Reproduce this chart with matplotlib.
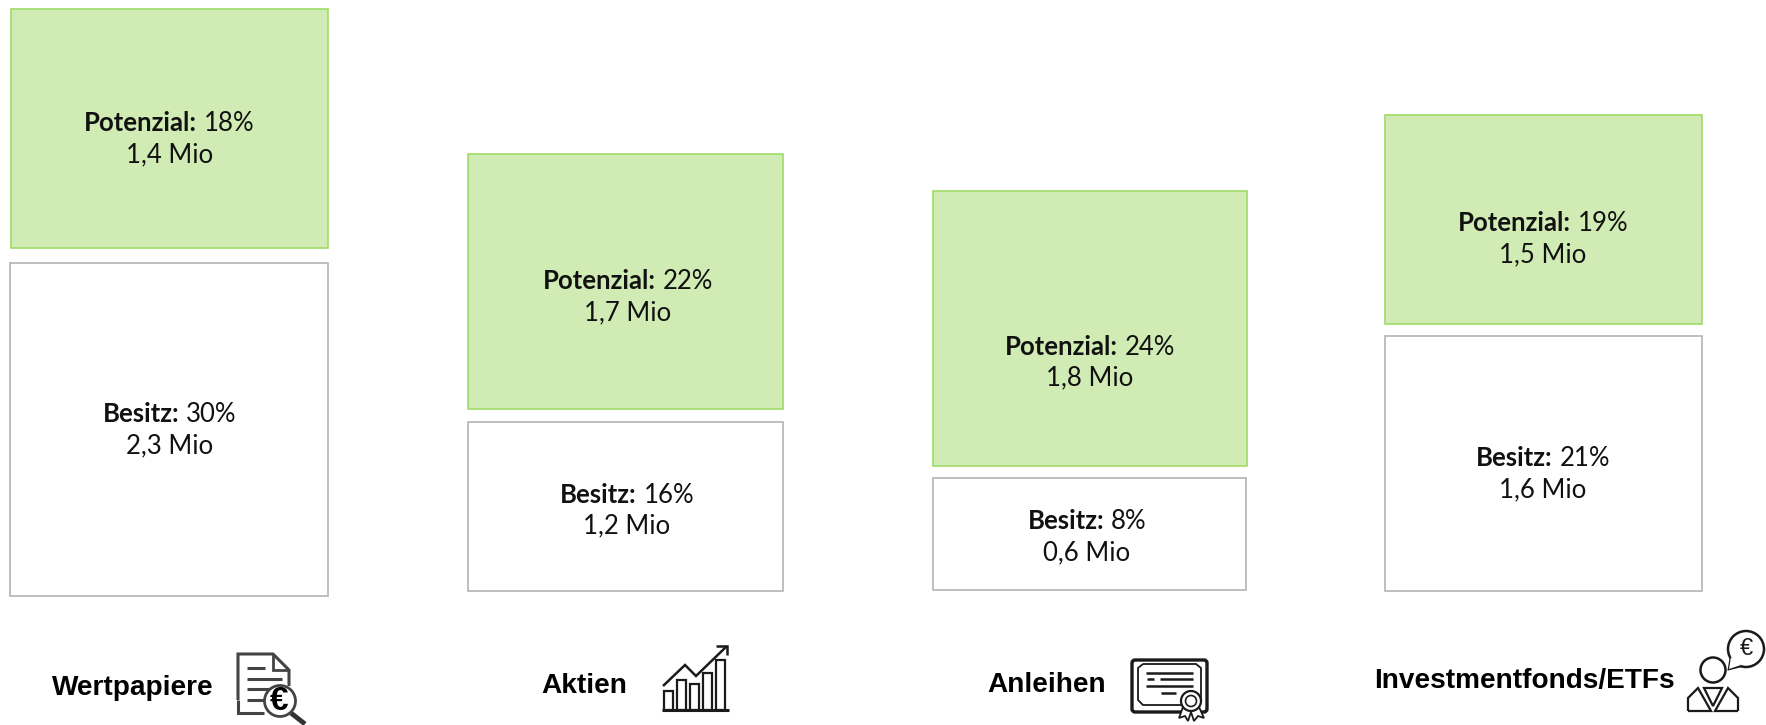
import matplotlib
matplotlib.use("Agg")
import matplotlib.pyplot as plt
from matplotlib.patches import Circle, FancyBboxPatch, Polygon, Rectangle

# values as printed
categories = ["Wertpapiere", "Aktien", "Anleihen", "Investmentfonds/ETFs"]
potenzial_pct = [18, 22, 24, 19]
potenzial_mio = [1.4, 1.7, 1.8, 1.5]
besitz_pct = [30, 16, 8, 21]
besitz_mio = [2.3, 1.2, 0.6, 1.6]

# box heights (they are not to scale with the percentages)
potenzial_height = [239, 255, 275, 209]
besitz_height = [333, 169, 112, 255]

# layout, in pixels of the 1766x725 image
pot_left = [11, 468, 933, 1385]
pot_width = [317, 315, 314, 317]
pot_top = [9, 154, 191, 115]
bes_left = [10, 468, 933, 1385]
bes_width = [318, 315, 313, 317]
bes_top = [263, 422, 478, 336]
pot_text_x = [169.5, 628, 1090, 1543]
pot_text_y = [131, 289, 354.5, 231]
bes_text_x = [169.5, 627, 1087, 1543]
bes_text_y = [422, 502.5, 529, 466]
cat_x = [52, 541, 987, 1374]
cat_y = [695, 693, 692, 688]

GREEN = "#D1EBB4"
GREEN_EDGE = "#A0DB68"
GREY_EDGE = "#B4B4B4"
ICON = "#1a1a1a"

fig = plt.figure(figsize=(17.66, 7.25), dpi=100)
ax = fig.add_axes([0, 0, 1, 1])
ax.set_xlim(0, 1766)
ax.set_ylim(725, 0)
ax.axis("off")

ax.bar(pot_left, potenzial_height, width=pot_width, bottom=pot_top, align="edge",
       color=GREEN, edgecolor=GREEN_EDGE, linewidth=1.2)
ax.bar(bes_left, besitz_height, width=bes_width, bottom=bes_top, align="edge",
       color="white", edgecolor=GREY_EDGE, linewidth=1.2)

renderer = fig.canvas.get_renderer()


def de(v):
    return f"{v:.1f}".replace(".", ",") + " Mio"


def box_label(xc, y, name, pct, mio):
    # bold name + regular number on one centred line, then the Mio line
    a = ax.text(0, y, name + ":", family="Lato", weight="bold", fontsize=18.5, color="#111111", va="baseline")
    b = ax.text(0, y, f"{pct}%", family="Lato", fontsize=18.5, color="#111111", va="baseline")
    wa = a.get_window_extent(renderer).width + 7
    wb = b.get_window_extent(renderer).width
    a.set_x(xc - (wa + wb) / 2)
    b.set_x(xc - (wa + wb) / 2 + wa)
    ax.text(xc, y + 31, de(mio), family="Lato", fontsize=18.5, color="#111111", va="baseline", ha="center")


for i in range(4):
    box_label(pot_text_x[i], pot_text_y[i], "Potenzial", potenzial_pct[i], potenzial_mio[i])
    box_label(bes_text_x[i], bes_text_y[i], "Besitz", besitz_pct[i], besitz_mio[i])
    ax.text(cat_x[i], cat_y[i], categories[i], family="Liberation Sans", weight="bold",
            fontsize=20.2, color="black", va="baseline")


def line(xs, ys, lw=1.8, color=ICON):
    ax.plot(xs, ys, color=color, lw=lw, solid_capstyle="butt", solid_joinstyle="miter", clip_on=False)


# document with magnifier
line([238, 238, 273, 289, 289], [700, 654, 654, 670, 686], lw=2.2, color="#444444")
line([238, 238, 264], [700, 713, 713], lw=2.2, color="#444444")
line([273, 273, 289], [654, 670, 670], lw=2, color="#444444")
line([247, 265], [668, 668], lw=2.2, color="#444444")
line([247, 282], [679, 679], lw=2.2, color="#444444")
line([247, 272], [689, 689], lw=2.2, color="#444444")
line([247, 264], [700, 700], lw=2.2, color="#444444")
ax.add_patch(Circle((280, 701), 15.5, fc="white", ec="#444444", lw=2, zorder=3))
ax.text(279, 702, "€", family="Liberation Sans", weight="bold", fontsize=24, ha="center", va="center",
        color="black", zorder=4)
line([291, 305], [713, 724], lw=3.5, color="#333333")

# growth chart
bar_x = [664, 677, 690, 703, 716]
bar_tops = [691, 680, 684, 673, 660]
for bx, bt in zip(bar_x, bar_tops):
    ax.add_patch(Rectangle((bx, bt), 9, 710 - bt, fc="white", ec=ICON, lw=1.6))
line([662, 729], [710, 710], lw=2.2)
line([663, 685, 696, 727], [686, 665, 676, 646], lw=1.8)
line([716, 727, 727], [646, 646, 655], lw=1.8)

# certificate
ax.add_patch(FancyBboxPatch((1132, 660), 75, 52, boxstyle="round,pad=0,rounding_size=3", fc="white", ec=ICON, lw=2.4))
line([1143, 1196, 1201, 1201, 1196, 1143, 1138, 1138, 1143],
     [664, 664, 668, 700, 705, 705, 700, 668, 664], lw=1.3)
line([1146, 1193], [673, 673], lw=1.8)
line([1147, 1154], [679, 679], lw=1.8)
line([1160, 1193], [679, 679], lw=1.8)
line([1146, 1193], [686, 686], lw=1.8)
line([1161, 1176], [693, 693], lw=1.8)
ax.add_patch(Polygon([(1183, 707), (1179, 718), (1185, 716), (1188, 721), (1191, 712), (1194, 721),
                      (1198, 716), (1204, 718), (1199, 707)], fc="white", ec=ICON, lw=1.3, zorder=3))
ax.add_patch(Circle((1191, 701), 10, fc="white", ec=ICON, lw=1.6, zorder=4))
ax.add_patch(Circle((1191, 701), 5.5, fc="white", ec=ICON, lw=1.2, zorder=5))

# adviser with speech bubble
ax.add_patch(Circle((1713, 670), 12.5, fc="white", ec=ICON, lw=1.8))
line([1688, 1688, 1698, 1711, 1701, 1688], [711, 698, 688, 711, 711, 711], lw=1.6)
line([1738, 1738, 1728, 1715, 1725, 1738], [711, 698, 688, 711, 711, 711], lw=1.6)
ax.add_patch(Polygon([(1704, 688), (1722, 688), (1713, 706)], fc="white", ec=ICON, lw=1.6))
ax.add_patch(Circle((1746, 649), 18, fc="white", ec=ICON, lw=1.8, clip_on=True))
ax.add_patch(Polygon([(1731, 657), (1729, 669), (1741, 665)], fc="white", ec="none", zorder=3))
line([1731, 1729, 1741], [657, 669, 666], lw=1.8)
ax.text(1746, 649, "€", family="Liberation Sans", fontsize=17, ha="center", va="center", color=ICON, zorder=4)

fig.savefig("out.png", dpi=100)
